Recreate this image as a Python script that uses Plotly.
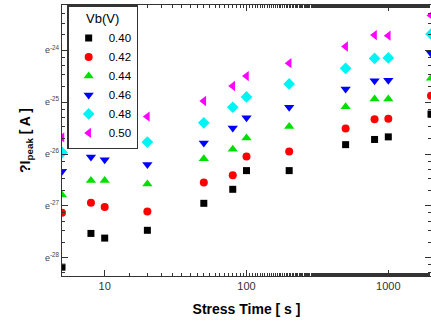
import numpy as np
import plotly.graph_objects as go

# Stress time (s)
stress_time = [5, 8, 10, 20, 50, 80, 100, 200, 500, 800, 1000, 2000]

# ln(delta I_peak) values for each Vb series
ln_040 = [-28.18, -27.53, -27.62, -27.47, -26.95, -26.68, -26.32, -26.32, -25.82, -25.72, -25.67, -25.23]
ln_042 = [-27.13, -26.94, -27.02, -27.11, -26.55, -26.41, -26.05, -25.95, -25.51, -25.33, -25.32, -24.88]
ln_044 = [-26.79, -26.51, -26.51, -26.58, -26.09, -25.91, -25.69, -25.47, -25.09, -24.94, -24.94, -24.54]
ln_046 = [-26.33, -26.06, -26.11, -26.20, -25.79, -25.50, -25.30, -25.10, -24.75, -24.59, -24.58, -24.06]
ln_048 = [-25.97, -25.77, -25.65, -25.77, -25.40, -25.10, -24.90, -24.65, -24.35, -24.16, -24.15, -23.69]
ln_050 = [-25.68, None, None, -25.28, -24.98, -24.69, -24.50, -24.25, -23.93, -23.71, -23.72, -23.33]

series_names = ["0.40", "0.42", "0.44", "0.46", "0.48", "0.50"]
series_vals = [ln_040, ln_042, ln_044, ln_046, ln_048, ln_050]
colors = ["#000000", "#ff0000", "#00e000", "#0000ff", "#00f4f4", "#ff00ff"]
symbols = ["square", "circle", "triangle-up", "triangle-down", "diamond", "triangle-left"]
sizes = [7, 8, 9, 9, 9, 9]

y_major_ln = [-28, -27, -26, -25, -24]
y_major_text = ["e<sup>-28</sup>", "e<sup>-27</sup>", "e<sup>-26</sup>", "e<sup>-25</sup>", "e<sup>-24</sup>"]
x_ticks = [10, 100, 1000]

fig = go.Figure()
for name, vals, c, s, sz in zip(series_names, series_vals, colors, symbols, sizes):
    y = [np.exp(v) if v is not None else None for v in vals]
    fig.add_trace(go.Scatter(
        x=stress_time, y=y, mode="markers", name=name,
        marker=dict(color=c, symbol=s, size=sz, line=dict(width=0)),
    ))

ln10 = np.log(10)
y_lo, y_hi = -28.35, -23.13

minor_vals = []
for n in range(-29, -23):
    a, b = np.exp(n), np.exp(n + 1)
    for k in range(1, 5):
        minor_vals.append(a + k * (b - a) / 5)

axis_common = dict(
    showline=True, linecolor="#333333", linewidth=1.2, mirror="allticks",
    ticks="inside", ticklen=6, tickwidth=1, tickcolor="#333333",
    showgrid=False, zeroline=False, automargin=False,
)

fig.update_layout(
    width=431, height=325,
    margin=dict(l=62, r=0, t=5, b=49, autoexpand=False),
    paper_bgcolor="white", plot_bgcolor="white",
    font=dict(family="Liberation Sans, Arial, sans-serif", color="#000000"),
    xaxis=dict(
        type="log", range=[np.log10(5), np.log10(2000)],
        tickvals=x_ticks, ticktext=[str(v) for v in x_ticks],
        tickfont=dict(size=11, color="#333333"),
        minor=dict(ticks="inside", ticklen=3, tickcolor="#333333", showgrid=False),
        title=dict(text="<b>Stress Time [ s ]</b>", font=dict(size=14, color="#000000"), standoff=12),
        **axis_common,
    ),
    yaxis=dict(
        type="log", range=[y_lo / ln10, y_hi / ln10],
        tickvals=[np.exp(v) for v in y_major_ln], ticktext=y_major_text,
        tickfont=dict(size=9, color="#444444"),
        minor=dict(ticks="inside", ticklen=3, tickcolor="#333333", tickvals=minor_vals, showgrid=False),
        title=dict(text="<b>?I<sub>peak</sub> [ A ]</b>", font=dict(size=14, color="#000000"), standoff=11),
        **axis_common,
    ),
    legend=dict(
        x=0.014, y=1.0, xanchor="left", yanchor="top",
        bgcolor="white", bordercolor="#333333", borderwidth=1.5,
        font=dict(size=11.5, color="#000000"),
        title=dict(text="Vb(V)", font=dict(size=13), side="top center"),
        itemsizing="trace", tracegroupgap=0, itemwidth=30,
    ),
    showlegend=True,
)

fig.write_html(
    "out.html",
    config={"displayModeBar": False},
    post_script="document.body.style.margin='0';document.body.style.overflow='hidden';",
)
